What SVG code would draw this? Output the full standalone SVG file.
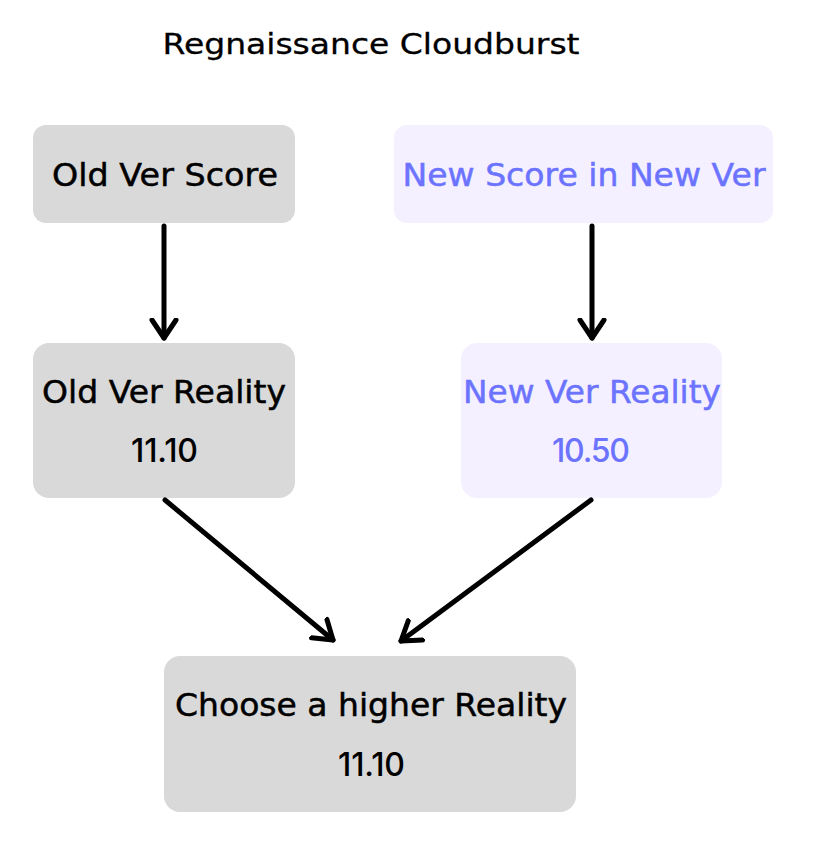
<svg xmlns="http://www.w3.org/2000/svg" width="815" height="856" viewBox="0 0 815 856">
<style>
text{font-family:"DejaVu Sans","Inter","Liberation Sans",sans-serif;font-size:32px;text-anchor:middle;stroke-width:0.5px}
.g rect{fill:#d9d9d9}
.g text{fill:#000;stroke:#000}
.p rect{fill:#f5f0ff}
.p text{fill:#6b73ff;stroke:#6b73ff}
.g text.num,.p text.num{font-family:"Inter","DejaVu Sans",sans-serif;font-size:32px;font-weight:500;stroke:none}
.c line{stroke:#000;stroke-width:5;stroke-linecap:round}
</style>
<defs>
<marker id="ah" markerUnits="userSpaceOnUse" markerWidth="40" markerHeight="40" viewBox="-20 -20 40 40" refX="0" refY="0" orient="auto">
<path d="M-18,-12 L0,0 L-18,12" fill="none" stroke="#000" stroke-width="5" stroke-linecap="round" stroke-linejoin="round"/>
</marker>
</defs>
<rect width="815" height="856" fill="#fff"/>
<text id="title" x="371" y="54" style="fill:#000;stroke:#000;stroke-width:0.3px;font-size:28px" textLength="417" lengthAdjust="spacingAndGlyphs">Regnaissance Cloudburst</text>
<g id="oldScore" class="g"><rect x="33" y="125" width="262" height="98" rx="13"/><text x="165" y="186" textLength="226" lengthAdjust="spacingAndGlyphs">Old Ver Score</text></g>
<g id="newScore" class="p"><rect x="394" y="125" width="379" height="98" rx="13"/><text x="584" y="186" textLength="363" lengthAdjust="spacingAndGlyphs">New Score in New Ver</text></g>
<g id="oldReality" class="g"><rect x="33" y="343" width="262" height="155" rx="16"/><text x="164" y="403" textLength="244" lengthAdjust="spacingAndGlyphs">Old Ver Reality</text><text class="num" x="164.5" y="462" textLength="67">11.10</text></g>
<g id="newReality" class="p"><rect x="461" y="343" width="261" height="155" rx="16"/><text x="592" y="403" textLength="258" lengthAdjust="spacingAndGlyphs">New Ver Reality</text><text class="num" x="591" y="462" textLength="78">10.50</text></g>
<g id="choose" class="g"><rect x="164" y="656" width="412" height="156" rx="16"/><text x="371" y="716" textLength="392" lengthAdjust="spacingAndGlyphs">Choose a higher Reality</text><text class="num" x="371.5" y="776" textLength="67">11.10</text></g>
<g id="connectors" class="c">
<line x1="164" y1="226" x2="164" y2="338" marker-end="url(#ah)"/>
<line x1="592" y1="226" x2="592" y2="338" marker-end="url(#ah)"/>
<line x1="165" y1="500" x2="333" y2="640" marker-end="url(#ah)"/>
<line x1="591" y1="500" x2="401" y2="641" marker-end="url(#ah)"/>
</g>
</svg>
